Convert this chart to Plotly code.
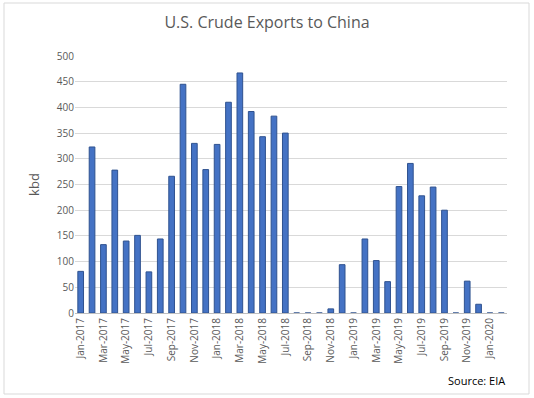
import plotly.graph_objects as go

months = ["Jan","Feb","Mar","Apr","May","Jun","Jul","Aug","Sep","Oct","Nov","Dec"]
categories = [f"{m}-{y}" for y in (2017, 2018, 2019) for m in months] + ["Jan-2020", "Feb-2020"]
values = [81, 323, 133, 278, 140, 151, 80, 144, 266, 445, 330, 279,
          328, 410, 467, 392, 343, 383, 350, 0, 0, 0, 8, 94,
          0, 144, 102, 61, 246, 291, 228, 245, 200, 0, 62, 17,
          0, 0]
tick_labels = categories[::2]
y_ticks = [0, 50, 100, 150, 200, 250, 300, 350, 400, 450, 500]

W, H = 534, 398
L, R, T, B = 75, 27, 56, 85
pw, ph = W - L - R, H - T - B

def px_to_paper_x(px):
    return (px - L) / pw

def px_to_paper_y(py):
    return (H - B - py) / ph

fig = go.Figure()
fig.add_trace(go.Bar(
    x=categories, y=values,
    marker=dict(color="#4472C4", line=dict(color="#2F528F", width=1)),
))

fig.update_layout(
    width=W, height=H,
    margin=dict(l=L, r=R, t=T, b=B, autoexpand=False),
    paper_bgcolor="white", plot_bgcolor="white",
    bargap=0.5,
    showlegend=False,
    font=dict(family="Open Sans, Liberation Sans, sans-serif", color="#595959", size=10),
    title=dict(text="U.S. Crude Exports to China", x=0.5, xref="container",
               y=1 - 22 / H, yanchor="middle",
               font=dict(size=16, color="#595959")),
    xaxis=dict(type="category", tickvals=tick_labels, ticktext=tick_labels,
               tickangle=-90, showgrid=False, showline=True, linecolor="#BFBFBF",
               linewidth=1, ticks="", tickfont=dict(size=10, color="#595959")),
    yaxis=dict(range=[0, 500], tickvals=y_ticks, showgrid=True, gridcolor="#D9D9D9",
               zeroline=False, showline=False, ticks="",
               title=dict(text="kbd", font=dict(size=13, color="#595959"), standoff=14),
               tickfont=dict(size=10, color="#595959")),
    shapes=[dict(type="rect", xref="paper", yref="paper",
                 x0=px_to_paper_x(4), x1=px_to_paper_x(529),
                 y0=px_to_paper_y(394), y1=px_to_paper_y(3),
                 line=dict(color="#D9D9D9", width=1), fillcolor="rgba(0,0,0,0)",
                 layer="below")],
    annotations=[dict(text="Source: EIA", xref="paper", yref="paper",
                      x=px_to_paper_x(507), y=px_to_paper_y(380),
                      xanchor="right", yanchor="middle", showarrow=False,
                      font=dict(size=11, color="#000000"))],
)

fig.write_html("out.html", config={"displayModeBar": False},
               post_script="document.body.style.margin='0';")
